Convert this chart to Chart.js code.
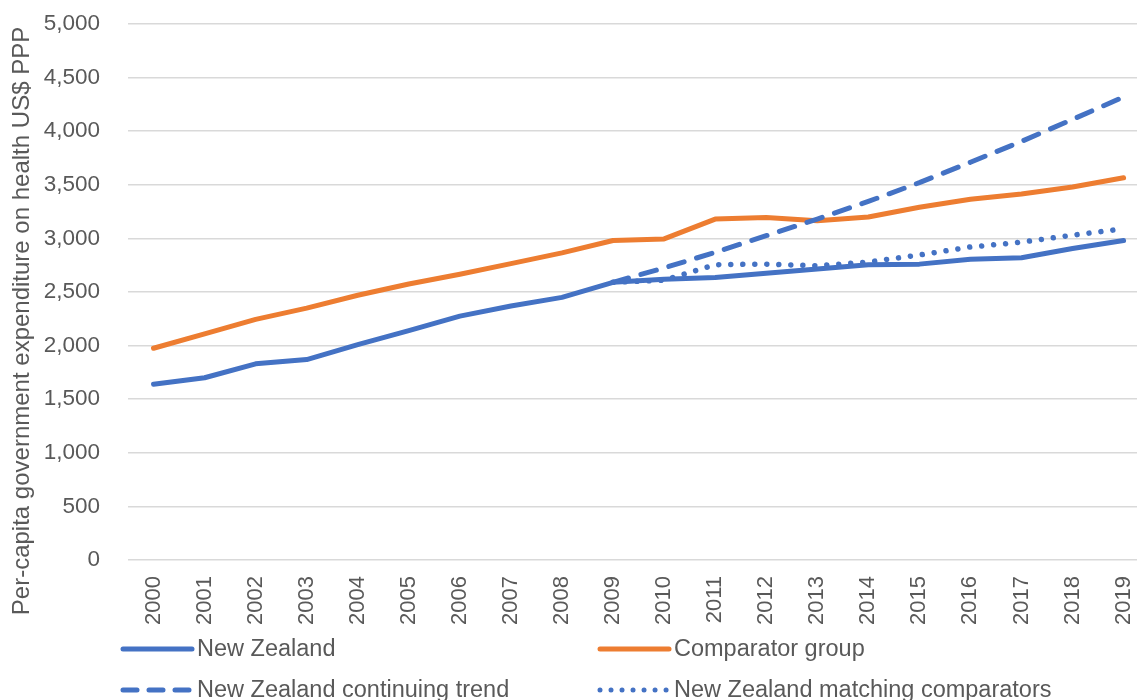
<!DOCTYPE html>
<html>
<head>
<meta charset="utf-8">
<script src="https://cdn.jsdelivr.net/npm/chart.js@4/dist/chart.umd.min.js"></script>
<style>
  html, body { margin: 0; padding: 0; background: #fff; overflow: hidden; }
  #wrap { width: 1137px; height: 700px; overflow: hidden; }
</style>
</head>
<body>
<div id="wrap"><canvas id="healthChart" width="1166" height="700"></canvas></div>
<script>
// data
const years = ["2000", "2001", "2002", "2003", "2004", "2005", "2006", "2007", "2008", "2009",
  "2010", "2011", "2012", "2013", "2014", "2015", "2016", "2017", "2018", "2019"];
const newZealand = [1640, 1700, 1830, 1870, 2010, 2140, 2275, 2370, 2450, 2590,
  2620, 2635, 2675, 2715, 2755, 2760, 2805, 2820, 2905, 2980];
const comparator = [1975, 2110, 2245, 2350, 2470, 2575, 2665, 2765, 2865, 2980,
  2995, 3180, 3195, 3165, 3200, 3290, 3365, 3415, 3480, 3565];
const nzTrend = [null, null, null, null, null, null, null, null, null, 2590,
  2725, 2870, 3025, 3180, 3345, 3520, 3710, 3905, 4110, 4320];
const nzMatching = [null, null, null, null, null, null, null, null, null, 2590,
  2610, 2755, 2760, 2745, 2780, 2845, 2920, 2965, 3030, 3090];
const yTicks = [0, 500, 1000, 1500, 2000, 2500, 3000, 3500, 4000, 4500, 5000];
const yTitle = "Per-capita government expenditure on health US$ PPP";

const BLUE = "#4472C4";
const ORANGE = "#ED7D31";
const TEXT = "#595959";
const FONT = "'Liberation Sans', Arial, sans-serif";

/************ LEGEND + AXIS TITLE ************/
const excelBits = {
  id: "excelBits",
  afterDraw(chart) {
    const ctx = chart.ctx;
    // y axis title
    ctx.save();
    ctx.fillStyle = TEXT;
    ctx.font = "24px " + FONT;
    ctx.textAlign = "center";
    ctx.textBaseline = "middle";
    ctx.translate(22, 321);
    ctx.rotate(-Math.PI / 2);
    ctx.fillText(yTitle, 0, 0);
    ctx.restore();

    // legend, two columns
    const spots = [[120, 649], [597, 649], [120, 690], [597, 690]];
    chart.data.datasets.forEach((ds, i) => {
      const [x, y] = spots[i];
      ctx.save();
      ctx.strokeStyle = ds.borderColor;
      ctx.lineWidth = 5;
      ctx.lineCap = "round";
      ctx.setLineDash(ds.borderDash ? (i === 3 ? [0.01, 11] : [14, 12]) : []);
      ctx.beginPath();
      ctx.moveTo(x + 3, y);
      ctx.lineTo(x + 72, y);
      ctx.stroke();
      ctx.setLineDash([]);
      ctx.fillStyle = TEXT;
      ctx.font = "23.5px " + FONT;
      ctx.textBaseline = "middle";
      ctx.fillText(ds.label, x + 77, y + 1);
      ctx.restore();
    });
  },
};

new Chart(document.getElementById("healthChart"), {
  type: "line",
  data: {
    labels: years,
    datasets: [
      {
        label: "New Zealand",
        data: newZealand,
        borderColor: BLUE,
        borderWidth: 5,
        order: 0,
      },
      {
        label: "Comparator group",
        data: comparator,
        borderColor: ORANGE,
        borderWidth: 5,
        order: 1,
      },
      {
        label: "New Zealand continuing trend",
        data: nzTrend,
        borderColor: BLUE,
        borderWidth: 5,
        borderDash: [16, 13],
        order: 0,
      },
      {
        label: "New Zealand matching comparators",
        data: nzMatching,
        borderColor: BLUE,
        borderWidth: 5.5,
        borderDash: [0.01, 12],
        order: 0,
      },
    ],
  },
  options: {
    responsive: false,
    animation: false,
    layout: { padding: { top: 24, right: 0, bottom: 0, left: 0 } },
    elements: {
      point: { radius: 0 },
      line: { tension: 0, borderCapStyle: "round", borderJoinStyle: "round" },
    },
    plugins: {
      legend: { display: false },
      tooltip: { enabled: false },
    },
    scales: {
      x: {
        offset: true,
        grid: { display: false, drawTicks: false },
        border: { display: false },
        ticks: {
          color: TEXT,
          font: { family: FONT, size: 22 },
          minRotation: 90,
          maxRotation: 90,
          padding: 16,
          autoSkip: false,
        },
        afterFit(scale) {
          scale.height = 140;
          scale.paddingTop = 0;
          scale.paddingBottom = 0;
        },
      },
      y: {
        min: 0,
        max: 5000,
        afterBuildTicks(scale) { scale.ticks = yTicks.map((v) => ({ value: v })); },
        grid: { color: "#D9D9D9", lineWidth: 1.5, drawTicks: false },
        border: { display: false },
        ticks: {
          color: TEXT,
          font: { family: FONT, size: 22.5 },
          padding: 28,
          callback: (v) => v.toLocaleString("en-US"),
        },
        afterFit(scale) {
          scale.width = 128;
          scale.paddingTop = 0;
          scale.paddingBottom = 0;
        },
      },
    },
  },
  plugins: [excelBits],
});
</script>
</body>
</html>
